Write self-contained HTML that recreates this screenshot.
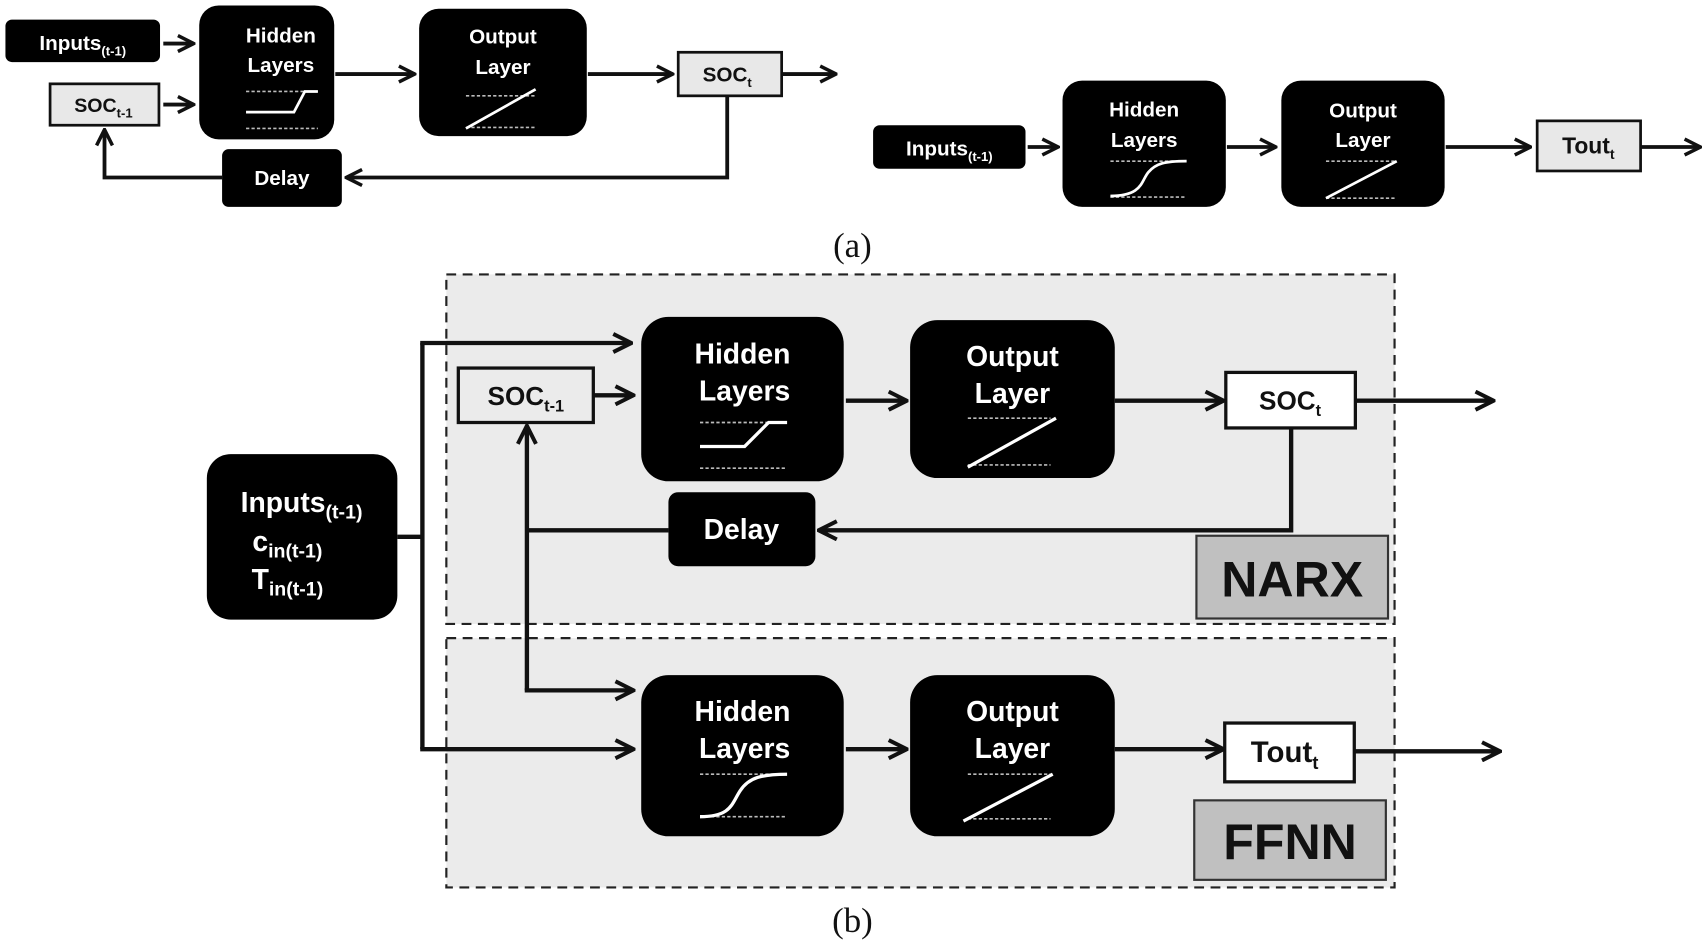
<!DOCTYPE html>
<html><head><meta charset="utf-8"><style>
html,body{margin:0;padding:0;background:#fff;}
svg{display:block;}
text{font-family:"Liberation Sans",Arial,sans-serif;font-weight:bold;}
.w{fill:#fff;}
.k{fill:#111;}
.ln{stroke:#111;fill:none;stroke-width:3.5;}
.ln2{stroke:#111;fill:none;stroke-width:4;}
.dot{stroke:#bbb;stroke-width:1.5;stroke-dasharray:3 2;fill:none;}
.cv{stroke:#fff;stroke-width:2.5;fill:none;}
</style></head><body>
<svg width="1707" height="943" viewBox="0 0 1568 866" preserveAspectRatio="none" xmlns="http://www.w3.org/2000/svg">
<defs>
<marker id="a" viewBox="0 0 12 12" refX="11" refY="6" markerWidth="5" markerHeight="5" orient="auto" markerUnits="strokeWidth">
<polyline points="1,1 11,6 1,11" fill="none" stroke="#111" stroke-width="2.2"/>
</marker>
</defs>

<!-- (a) left -->
<rect x="5" y="18" width="142" height="39" rx="6" fill="#000"/>
<text x="76" y="46" font-size="19" text-anchor="middle" class="w">Inputs<tspan font-size="12" dy="5">(t-1)</tspan></text>
<line x1="150" y1="40" x2="178" y2="40" class="ln" marker-end="url(#a)"/>
<rect x="46" y="77" width="100" height="38" fill="#e8e8e8" stroke="#111" stroke-width="2.5"/>
<text x="95" y="103" font-size="18" text-anchor="middle" class="k">SOC<tspan font-size="12" dy="5">t-1</tspan></text>
<line x1="150" y1="96" x2="178" y2="96" class="ln" marker-end="url(#a)"/>
<rect x="183" y="5" width="124" height="123" rx="18" fill="#000"/>
<text x="258" y="39" font-size="19" text-anchor="middle" class="w">Hidden</text>
<text x="258" y="66" font-size="19" text-anchor="middle" class="w">Layers</text>
<line x1="226" y1="84" x2="292" y2="84" class="dot"/>
<polyline points="226,103 270,103 280,84 292,84" class="cv"/>
<line x1="226" y1="118" x2="292" y2="118" class="dot"/>
<line x1="308" y1="68" x2="381" y2="68" class="ln" marker-end="url(#a)"/>
<rect x="385" y="8" width="154" height="117" rx="18" fill="#000"/>
<text x="462" y="40" font-size="19" text-anchor="middle" class="w">Output</text>
<text x="462" y="68" font-size="19" text-anchor="middle" class="w">Layer</text>
<line x1="428" y1="88" x2="492" y2="88" class="dot"/>
<line x1="428" y1="117" x2="492" y2="117" class="dot"/>
<line x1="428" y1="118" x2="492" y2="82" class="cv"/>
<line x1="540" y1="68" x2="618" y2="68" class="ln" marker-end="url(#a)"/>
<rect x="623" y="48" width="95" height="40" fill="#e8e8e8" stroke="#111" stroke-width="2.5"/>
<text x="668" y="75" font-size="19" text-anchor="middle" class="k">SOC<tspan font-size="12" dy="5">t</tspan></text>
<line x1="718" y1="68" x2="768" y2="68" class="ln" marker-end="url(#a)"/>
<polyline points="668,88 668,163 318,163" class="ln" marker-end="url(#a)"/>
<rect x="204" y="137" width="110" height="53" rx="6" fill="#000"/>
<text x="259" y="170" font-size="19" text-anchor="middle" class="w">Delay</text>
<polyline points="204,163 96,163 96,119" class="ln" marker-end="url(#a)"/>

<!-- (a) right -->
<rect x="802" y="115" width="140" height="40" rx="6" fill="#000"/>
<text x="872" y="143" font-size="19" text-anchor="middle" class="w">Inputs<tspan font-size="12" dy="5">(t-1)</tspan></text>
<line x1="944" y1="135" x2="972" y2="135" class="ln" marker-end="url(#a)"/>
<rect x="976" y="74" width="150" height="116" rx="18" fill="#000"/>
<text x="1051" y="107" font-size="19" text-anchor="middle" class="w">Hidden</text>
<text x="1051" y="135" font-size="19" text-anchor="middle" class="w">Layers</text>
<line x1="1020" y1="148" x2="1090" y2="148" class="dot"/>
<line x1="1020" y1="181" x2="1090" y2="181" class="dot"/>
<path d="M1020,180 C1050,180 1048,166 1055,158 C1062,150 1070,148 1090,148" class="cv"/>
<line x1="1127" y1="135" x2="1172" y2="135" class="ln" marker-end="url(#a)"/>
<rect x="1177" y="74" width="150" height="116" rx="18" fill="#000"/>
<text x="1252" y="108" font-size="19" text-anchor="middle" class="w">Output</text>
<text x="1252" y="135" font-size="19" text-anchor="middle" class="w">Layer</text>
<line x1="1218" y1="148" x2="1283" y2="148" class="dot"/>
<line x1="1218" y1="182" x2="1283" y2="182" class="dot"/>
<line x1="1218" y1="182" x2="1283" y2="148" class="cv"/>
<line x1="1328" y1="135" x2="1406" y2="135" class="ln" marker-end="url(#a)"/>
<rect x="1412" y="111" width="95" height="46" fill="#e8e8e8" stroke="#111" stroke-width="2.5"/>
<text x="1459" y="141" font-size="21" text-anchor="middle" class="k">Tout<tspan font-size="13" dy="5">t</tspan></text>
<line x1="1507" y1="135" x2="1562" y2="135" class="ln" marker-end="url(#a)"/>

<text x="783" y="236" font-size="32" text-anchor="middle" style="font-family:'Liberation Serif',serif;font-weight:normal" class="k">(a)</text>

<!-- (b) -->
<rect x="410" y="252" width="871" height="321" fill="#ebebeb" stroke="#222" stroke-width="2" stroke-dasharray="9 6"/>
<rect x="410" y="586" width="871" height="229" fill="#ebebeb" stroke="#222" stroke-width="2" stroke-dasharray="9 6"/>

<rect x="190" y="417" width="175" height="152" rx="22" fill="#000"/>
<text x="277" y="470" font-size="26" text-anchor="middle" class="w">Inputs<tspan font-size="18" dy="6">(t-1)</tspan></text>
<text x="264" y="506" font-size="26" text-anchor="middle" class="w">c<tspan font-size="18" dy="6">in(t-1)</tspan></text>
<text x="264" y="541" font-size="26" text-anchor="middle" class="w">T<tspan font-size="18" dy="6">in(t-1)</tspan></text>
<line x1="365" y1="493" x2="388" y2="493" class="ln2"/>
<line x1="388" y1="315" x2="388" y2="688" class="ln2"/>
<line x1="386" y1="315" x2="580" y2="315" class="ln2" marker-end="url(#a)"/>
<line x1="386" y1="688" x2="582" y2="688" class="ln2" marker-end="url(#a)"/>

<rect x="421" y="338" width="124" height="50" fill="#ebebeb" stroke="#111" stroke-width="3"/>
<text x="483" y="372" font-size="24" text-anchor="middle" class="k">SOC<tspan font-size="15" dy="6">t-1</tspan></text>
<line x1="546" y1="363" x2="582" y2="363" class="ln2" marker-end="url(#a)"/>

<rect x="589" y="291" width="186" height="151" rx="25" fill="#000"/>
<text x="682" y="334" font-size="26" text-anchor="middle" class="w">Hidden</text>
<text x="684" y="368" font-size="26" text-anchor="middle" class="w">Layers</text>
<line x1="643" y1="388" x2="723" y2="388" class="dot"/>
<line x1="643" y1="430" x2="723" y2="430" class="dot"/>
<polyline points="643,410 684,410 706,388 723,388" class="cv" style="stroke-width:3"/>
<line x1="777" y1="368" x2="833" y2="368" class="ln2" marker-end="url(#a)"/>

<rect x="836" y="294" width="188" height="145" rx="25" fill="#000"/>
<text x="930" y="336" font-size="26" text-anchor="middle" class="w">Output</text>
<text x="930" y="370" font-size="26" text-anchor="middle" class="w">Layer</text>
<line x1="889" y1="384" x2="965" y2="384" class="dot"/>
<line x1="889" y1="427" x2="965" y2="427" class="dot"/>
<line x1="889" y1="429" x2="970" y2="384" class="cv" style="stroke-width:3"/>
<line x1="1024" y1="368" x2="1124" y2="368" class="ln2" marker-end="url(#a)"/>

<rect x="1126" y="342" width="119" height="51" fill="#fff" stroke="#111" stroke-width="3"/>
<text x="1185" y="376" font-size="24" text-anchor="middle" class="k">SOC<tspan font-size="15" dy="6">t</tspan></text>
<line x1="1245" y1="368" x2="1372" y2="368" class="ln2" marker-end="url(#a)"/>

<polyline points="1186,393 1186,487 752,487" class="ln2" marker-end="url(#a)"/>
<rect x="614" y="452" width="135" height="68" rx="9" fill="#000"/>
<text x="681" y="495" font-size="26" text-anchor="middle" class="w">Delay</text>
<polyline points="614,487 484,487" class="ln2"/>
<line x1="484" y1="634" x2="484" y2="391" class="ln2" marker-end="url(#a)"/>
<line x1="482" y1="634" x2="582" y2="634" class="ln2" marker-end="url(#a)"/>

<rect x="1099" y="492" width="176" height="76" fill="#c0c0c0" stroke="#333" stroke-width="2"/>
<text x="1187" y="548" font-size="46" text-anchor="middle" class="k">NARX</text>

<rect x="589" y="620" width="186" height="148" rx="25" fill="#000"/>
<text x="682" y="662" font-size="26" text-anchor="middle" class="w">Hidden</text>
<text x="684" y="696" font-size="26" text-anchor="middle" class="w">Layers</text>
<line x1="643" y1="711" x2="723" y2="711" class="dot"/>
<line x1="643" y1="750" x2="723" y2="750" class="dot"/>
<path d="M643,750 C672,750 672,738 680,726 C688,714 700,711 723,711" class="cv" style="stroke-width:3"/>
<line x1="777" y1="688" x2="833" y2="688" class="ln2" marker-end="url(#a)"/>

<rect x="836" y="620" width="188" height="148" rx="25" fill="#000"/>
<text x="930" y="662" font-size="26" text-anchor="middle" class="w">Output</text>
<text x="930" y="696" font-size="26" text-anchor="middle" class="w">Layer</text>
<line x1="889" y1="711" x2="965" y2="711" class="dot"/>
<line x1="889" y1="752" x2="965" y2="752" class="dot"/>
<line x1="885" y1="754" x2="967" y2="711" class="cv" style="stroke-width:3"/>
<line x1="1024" y1="688" x2="1124" y2="688" class="ln2" marker-end="url(#a)"/>

<rect x="1125" y="664" width="119" height="54" fill="#fff" stroke="#111" stroke-width="3"/>
<text x="1180" y="700" font-size="27" text-anchor="middle" class="k">Tout<tspan font-size="17" dy="6">t</tspan></text>
<line x1="1244" y1="690" x2="1378" y2="690" class="ln2" marker-end="url(#a)"/>

<rect x="1097" y="735" width="176" height="73" fill="#c0c0c0" stroke="#333" stroke-width="2"/>
<text x="1185" y="789" font-size="46" text-anchor="middle" class="k">FFNN</text>

<text x="783" y="856" font-size="32" text-anchor="middle" style="font-family:'Liberation Serif',serif;font-weight:normal" class="k">(b)</text>
</svg>
</body></html>
